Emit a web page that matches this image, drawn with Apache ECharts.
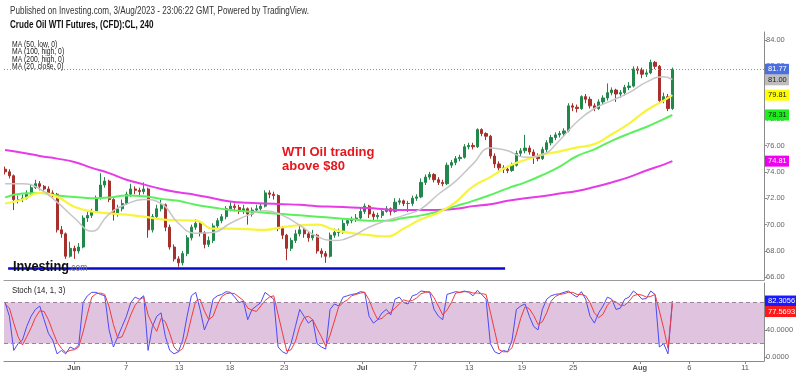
<!DOCTYPE html>
<html>
<head>
<meta charset="utf-8">
<title>Crude Oil WTI Futures, (CFD):CL, 240</title>
<script src="https://cdn.jsdelivr.net/npm/echarts@6/dist/echarts.min.js"></script>
<style>
  html, body { margin: 0; padding: 0; background: #fff; }
  #chart { width: 800px; height: 376px; }
</style>
</head>
<body>
<div id="chart"></div>
<script>
// candles, one every ~8h, index 0 = first visible bar
const firstOpen = 74.2;
const closes = [
  74.0,73.7,71.9,71.9,72.0,72.4,72.8,73.1,72.9,72.7,
  72.4,72.3,69.6,69.3,67.6,68.2,68.0,68.3,70.5,70.7,
  71.0,72.0,73.0,73.3,71.9,70.8,71.2,71.6,72.3,72.7,
  72.6,72.5,72.7,69.6,70.6,71.2,71.5,69.8,68.3,67.4,
  67.1,67.8,69.0,69.8,70.1,69.4,68.5,68.8,69.9,70.3,
  70.6,71.2,71.4,71.3,71.0,71.2,70.8,71.1,71.2,71.4,
  72.4,72.3,72.2,69.7,69.2,68.2,68.8,69.3,69.6,69.3,
  69.0,69.2,68.0,67.8,67.6,69.2,69.4,69.4,70.1,70.3,
  70.4,70.5,71.0,71.4,70.8,70.6,70.7,71.0,71.2,71.0,
  71.7,71.8,71.6,71.6,72.0,72.1,73.2,73.6,73.8,73.4,
  73.2,73.1,74.5,74.7,75.0,75.1,75.9,76.0,75.9,77.2,
  76.9,76.7,75.2,74.6,74.3,74.2,74.1,74.5,75.4,75.6,
  75.8,75.5,75.2,75.0,75.7,76.2,76.6,76.8,76.9,77.1,
  79.0,78.9,78.8,79.7,79.5,79.0,78.8,79.3,79.6,80.0,
  80.2,79.9,80.0,80.4,80.5,81.8,81.7,81.4,81.5,82.3,
  82.0,79.4,79.7,78.8,81.77
];
const highs = [
  74.4,74.2,73.8,72.2,72.3,72.6,73.0,73.4,73.3,73.0,
  72.9,72.6,72.4,69.9,69.4,68.7,68.4,68.6,70.7,71.0,
  71.2,72.2,73.9,73.6,73.4,72.0,71.5,71.9,72.5,73.1,
  72.9,72.8,73.2,72.8,70.8,71.5,71.9,71.6,70.0,68.5,
  67.6,68.0,69.2,70.0,70.4,70.2,69.5,69.1,70.1,70.5,
  70.8,71.4,71.7,71.6,71.5,71.5,71.3,71.3,71.5,71.6,
  72.6,72.6,72.5,72.3,69.9,69.3,69.0,69.6,69.9,69.8,
  69.5,69.6,69.3,68.2,68.0,69.4,69.7,69.7,70.4,70.5,
  70.6,70.8,71.3,71.6,71.5,71.0,70.9,71.2,71.4,71.3,
  72.0,72.0,71.9,71.8,72.2,72.3,73.5,73.8,74.0,73.9,
  73.6,73.4,74.7,74.9,75.2,75.3,76.1,76.2,76.2,77.3,
  77.3,77.0,76.8,75.4,74.8,74.5,74.4,74.7,75.6,75.8,
  76.8,76.0,75.7,75.4,75.9,76.4,76.8,77.0,77.1,77.3,
  79.2,79.2,79.1,79.8,79.9,79.7,79.2,79.5,79.8,80.7,
  80.4,80.3,80.2,80.6,80.8,82.0,82.0,81.9,81.7,82.5,
  82.4,82.1,80.0,79.9,81.9
];
const lows = [
  73.8,73.5,71.1,71.6,71.7,71.9,72.2,72.7,72.6,72.4,
  72.2,72.0,69.4,69.0,67.4,67.5,67.4,67.8,68.2,70.2,
  70.5,70.9,71.9,72.8,71.7,70.3,70.6,71.0,71.5,72.1,
  72.3,72.2,72.3,69.0,69.4,70.4,71.0,69.5,68.1,67.2,
  66.8,66.9,67.6,68.8,69.6,69.1,68.2,68.3,68.6,69.7,
  70.1,70.4,71.0,71.0,70.8,70.8,70.0,70.6,70.9,71.0,
  71.3,72.0,71.9,69.5,68.9,67.3,68.0,68.6,69.1,69.0,
  68.7,68.8,67.8,67.5,67.1,67.5,69.0,69.1,69.3,69.9,
  70.1,70.2,70.4,70.8,70.5,70.3,70.4,70.5,70.9,70.7,
  70.9,71.5,71.4,70.96,71.4,71.8,72.0,73.0,73.4,73.2,
  73.0,72.9,73.0,74.3,74.5,74.8,75.0,75.7,75.7,75.8,
  76.7,76.4,75.0,74.3,74.1,73.9,73.9,74.0,74.4,75.2,
  75.4,75.3,74.6,74.8,74.9,75.5,76.0,76.4,76.6,76.7,
  77.0,78.6,78.5,78.7,79.2,78.8,78.6,78.7,79.1,79.4,
  79.8,79.3,79.6,79.8,80.2,80.4,81.4,81.1,81.2,81.4,
  81.8,79.2,79.2,78.6,78.7
];

// moving averages, sampled every 4 bars
const maIdx = [0,4,8,12,16,20,24,28,32,36,40,44,48,52,56,60,64,68,72,76,
  80,84,88,92,96,100,104,108,112,116,120,124,128,132,136,140,144,148,152,154];
const ma20 = [73.1,73.1,72.7,71.7,70.5,69.5,70.8,71.55,71.9,71.6,
  70.1,69.35,69.4,70.1,70.7,71.05,70.7,69.95,69.1,68.8,
  69.1,69.8,70.3,70.7,71.2,72.3,73.3,74.6,75.8,75.6,
  75.1,75.3,76.4,77.8,78.8,79.4,80.0,80.8,81.2,81.0];
const ma50 = [71.6,71.9,72.4,72.1,71.35,71.0,70.85,70.75,70.6,70.4,
  70.33,70.3,69.7,69.7,69.65,69.6,69.8,69.95,70.0,69.6,
  69.35,69.2,69.1,69.7,70.4,70.9,71.7,72.9,73.6,74.4,
  74.9,75.3,75.55,75.85,76.1,76.85,77.65,78.65,79.4,79.81];
const ma100 = [72.06,72.35,72.4,72.2,72.1,72.0,72.05,72.2,72.15,71.95,
  71.8,71.5,71.3,71.1,71.0,70.9,70.8,70.7,70.6,70.5,
  70.4,70.3,70.3,70.5,70.7,71.0,71.4,71.8,72.25,72.75,
  73.2,73.75,74.4,75.2,75.7,76.35,76.9,77.4,78.0,78.31];
const ma200 = [75.65,75.45,75.2,75.0,74.75,74.3,73.9,73.4,73.05,72.7,
  72.45,72.25,72.0,71.75,71.65,71.6,71.55,71.5,71.4,71.35,
  71.3,71.25,71.15,71.1,71.1,71.1,71.2,71.4,71.55,71.8,
  72.0,72.15,72.35,72.55,72.85,73.2,73.6,74.1,74.55,74.81];

// Stoch (14, 1, 3)
const stochK = [
  80,60,10,20,25,45,60,70,75,55,
  35,25,5,10,5,15,12,18,80,90,
  95,95,92,90,40,15,30,45,60,80,
  88,85,90,10,45,60,65,30,10,5,
  8,25,60,90,95,70,40,55,85,90,
  92,96,95,88,80,82,55,70,75,80,
  95,90,85,15,8,5,20,45,70,60,
  50,55,20,15,12,70,78,75,88,90,
  92,93,96,95,60,50,55,65,70,62,
  85,88,80,78,90,92,97,96,95,70,
  60,55,92,94,96,95,97,95,90,98,
  92,85,20,8,5,10,8,25,70,75,
  78,60,45,40,70,85,90,92,93,95,
  97,92,88,96,85,60,50,65,75,88,
  85,70,72,85,88,97,92,85,86,97,
  92,15,20,5,82.3056
];
const stochD = [
  78,72,50,30,18,30,43,58,68,67,
  55,38,22,13,7,10,11,15,37,63,
  88,93,94,92,74,48,28,30,45,62,
  76,84,88,62,48,38,57,52,35,15,
  8,13,31,58,82,85,68,55,60,77,
  89,93,94,93,88,83,72,69,67,75,
  83,88,90,63,36,9,11,23,45,58,
  60,55,42,30,16,32,53,74,80,84,
  90,92,94,95,84,68,55,57,63,66,
  72,78,84,82,83,87,93,95,96,87,
  75,62,69,80,94,95,96,96,94,94,
  93,92,66,38,11,8,8,14,34,57,
  74,71,61,48,52,65,82,89,92,93,
  95,95,92,92,90,80,65,58,63,76,
  83,81,76,76,82,90,92,91,88,89,
  92,68,42,13,77.5693
];

const xTickIdx = [15.9,27.9,40.2,51.9,64.4,82.4,94.6,107.1,119.3,131.1,146.5,157.9,170.8];
const xTickText = ['Jun','7','13','18','23','Jul','7','13','19','25','Aug','6','11'];
const priceTicks = [66,68,70,72,74,76,78,80,82,84];
const stochTicks = [0,40];
const supportLine = { from: 0.7, to: 115.4, price: 66.7 };
const lastPrice = 81.77;

const FONT = "'Liberation Sans', Arial, sans-serif";
const UP = '#22874a', DOWN = '#a8302c';

const candles = closes.map((c, i) => [i, i ? closes[i - 1] : firstOpen, c, lows[i], highs[i]]);
const pairs = (arr) => maIdx.map((x, k) => [x, arr[k]]);
const seq = (arr) => arr.map((v, i) => [i, v]);

const chart = echarts.init(document.getElementById('chart'), null, { renderer: 'canvas' });

const axisGray = '#8a8a8a';
const option = {
  animation: false,
  backgroundColor: '#fff',
  grid: [
    { left: 4, right: 36, top: 32, height: 248 },
    { left: 4, right: 36, top: 283, height: 78 }
  ],
  xAxis: [
    {
      type: 'value', gridIndex: 0, min: -0.25, max: 175.15,
      axisLine: { show: true, onZero: false, lineStyle: { color: '#9a9a9a' } },
      axisTick: { show: false }, axisLabel: { show: false }, splitLine: { show: false }
    },
    {
      type: 'value', gridIndex: 1, min: -0.25, max: 175.15,
      axisLine: { show: true, onZero: false, lineStyle: { color: axisGray } },
      axisTick: { show: true, customValues: xTickIdx, length: 3, lineStyle: { color: axisGray } },
      axisLabel: {
        customValues: xTickIdx, margin: 3, fontSize: 7.5, fontFamily: FONT, color: '#555',
        formatter: (v) => {
          let k = 0;
          xTickIdx.forEach((t, j) => { if (Math.abs(t - v) < Math.abs(xTickIdx[k] - v)) k = j; });
          const s = xTickText[k];
          return isNaN(+s) ? '{m|' + s + '}' : s;
        },
        rich: { m: { fontWeight: 'bold', fontSize: 7.5, fontFamily: FONT, color: '#555' } }
      },
      splitLine: { show: false }
    }
  ],
  yAxis: [
    {
      type: 'value', gridIndex: 0, position: 'right', min: 65.8, max: 84.6,
      axisLine: { show: true, onZero: false, lineStyle: { color: axisGray } },
      axisTick: { show: true, customValues: priceTicks, length: 3, lineStyle: { color: axisGray } },
      axisLabel: {
        customValues: priceTicks, margin: 2, fontSize: 7.5, fontFamily: FONT, color: '#666',
        formatter: (v) => v.toFixed(2)
      },
      splitLine: { show: false }
    },
    {
      type: 'value', gridIndex: 1, position: 'right', min: -5.5, max: 108.7,
      axisLine: { show: true, onZero: false, lineStyle: { color: axisGray } },
      axisTick: { show: true, customValues: stochTicks, length: 3, lineStyle: { color: axisGray } },
      axisLabel: {
        customValues: stochTicks, margin: 2, fontSize: 7.5, fontFamily: FONT, color: '#666',
        formatter: (v) => v.toFixed(4)
      },
      splitLine: { show: false }
    }
  ],
  series: [
    {
      name: 'CL', type: 'candlestick', xAxisIndex: 0, yAxisIndex: 0,
      data: candles, encode: { x: 0, y: [1, 2, 3, 4] },
      barWidth: 2.6, z: 2,
      itemStyle: { color: UP, color0: DOWN, borderColor: UP, borderColor0: DOWN, borderWidth: 1 },
      markLine: {
        silent: true, symbol: 'none', label: { show: false },
        data: [
          { yAxis: lastPrice, lineStyle: { color: '#6f8fe0', type: [1, 2], width: 1 } },
          [
            { coord: [supportLine.from, supportLine.price], lineStyle: { color: '#0a0ad0', type: 'solid', width: 2.5 } },
            { coord: [supportLine.to, supportLine.price] }
          ]
        ]
      }
    },
    { name: 'MA200', type: 'line', data: pairs(ma200), smooth: true, showSymbol: false, z: 3,
      lineStyle: { color: '#e63be6', width: 2 } },
    { name: 'MA100', type: 'line', data: pairs(ma100), smooth: true, showSymbol: false, z: 3,
      lineStyle: { color: '#5cf05c', width: 2 } },
    { name: 'MA50', type: 'line', data: pairs(ma50), smooth: true, showSymbol: false, z: 3,
      lineStyle: { color: '#f7f43c', width: 2.2 } },
    { name: 'MA20', type: 'line', data: pairs(ma20), smooth: true, showSymbol: false, z: 3,
      lineStyle: { color: '#c6c6c6', width: 1.5 } },
    {
      name: '%K', type: 'line', xAxisIndex: 1, yAxisIndex: 1, data: seq(stochK),
      showSymbol: false, z: 3, lineStyle: { color: '#4b4bf5', width: 1 },
      markArea: {
        silent: true, itemStyle: { color: '#dfc3df' },
        data: [[{ yAxis: 20 }, { yAxis: 80 }]]
      },
      markLine: {
        silent: true, symbol: 'none', label: { show: false },
        lineStyle: { color: '#9d809d', type: [4, 3], width: 1 },
        data: [{ yAxis: 20 }, { yAxis: 80 }]
      }
    },
    {
      name: '%D', type: 'line', xAxisIndex: 1, yAxisIndex: 1, data: seq(stochD),
      showSymbol: false, z: 3, lineStyle: { color: '#f23a3a', width: 1 }
    }
  ]
};
chart.setOption(option);

// price tags on the right axes, placed through the axis scales
const tags = [
  { g: 0, v: lastPrice, bg: '#4a6fe3', fg: '#fff', d: 2 },
  { g: 0, v: ma20[ma20.length - 1], bg: '#bdbdbd', fg: '#222', d: 2 },
  { g: 0, v: ma50[ma50.length - 1], bg: '#ffff00', fg: '#222', d: 2 },
  { g: 0, v: ma100[ma100.length - 1], bg: '#19f019', fg: '#222', d: 2 },
  { g: 0, v: ma200[ma200.length - 1], bg: '#f000f0', fg: '#fff', d: 2 },
  { g: 1, v: stochK[stochK.length - 1], bg: '#1a1aff', fg: '#fff', d: 4 },
  { g: 1, v: stochD[stochD.length - 1], bg: '#ff1a1a', fg: '#fff', d: 4 }
];
const gfx = [];
const lastY = {};
tags.forEach((t) => {
  let y = chart.convertToPixel({ yAxisIndex: t.g }, t.v);
  // keep tags of one pane from sitting on top of each other
  if (lastY[t.g] != null && y < lastY[t.g] + 10.5) y = lastY[t.g] + 10.5;
  lastY[t.g] = y;
  const w = t.d === 4 ? 31 : 24;
  gfx.push({ type: 'rect', shape: { x: 765, y: y - 5.5, width: w, height: 11 }, style: { fill: t.bg }, z: 10 });
  gfx.push({ type: 'text', x: 768, y: y, z: 11,
    style: { text: t.v.toFixed(t.d), fill: t.fg, font: '7.5px ' + FONT, verticalAlign: 'middle' } });
});

// narrow-looking labels: normal font squeezed horizontally
const txt = (x, y, text, font, fill, sx) => ({ type: 'text', x, y, z: 12, scaleX: sx || 1,
  style: { text, font, fill, verticalAlign: 'middle' } });
gfx.push(txt(10, 11, 'Published on Investing.com, 3/Aug/2023 - 23:06:22 GMT, Powered by TradingView.', '10px ' + FONT, '#333', 0.81));
gfx.push(txt(10, 25, 'Crude Oil WTI Futures, (CFD):CL, 240', 'bold 10px ' + FONT, '#111', 0.81));
['MA (50, low, 0)', 'MA (100, high, 0)', 'MA (200, high, 0)', 'MA (20, close, 0)'].forEach((s, k) => {
  gfx.push(txt(12, 44.5 + k * 7.5, s, '8.5px ' + FONT, '#222', 0.8));
});
gfx.push(txt(282, 152, 'WTI Oil trading', 'bold 13px ' + FONT, '#e8161c'));
gfx.push(txt(282, 166, 'above $80', 'bold 13px ' + FONT, '#e8161c'));
gfx.push({ type: 'text', x: 13, y: 267, z: 12, scaleX: 0.85,
  style: {
    text: '{a|Investing}{b|.com}', verticalAlign: 'middle',
    rich: {
      a: { font: 'bold 15px ' + FONT, fill: '#111' },
      b: { font: '10px ' + FONT, fill: '#777', padding: [3, 0, 0, 0] }
    }
  } });
gfx.push(txt(12, 290, 'Stoch (14, 1, 3)', '9.5px ' + FONT, '#222', 0.82));

chart.setOption({ graphic: gfx });
window.addEventListener('resize', () => chart.resize());
</script>
</body>
</html>
